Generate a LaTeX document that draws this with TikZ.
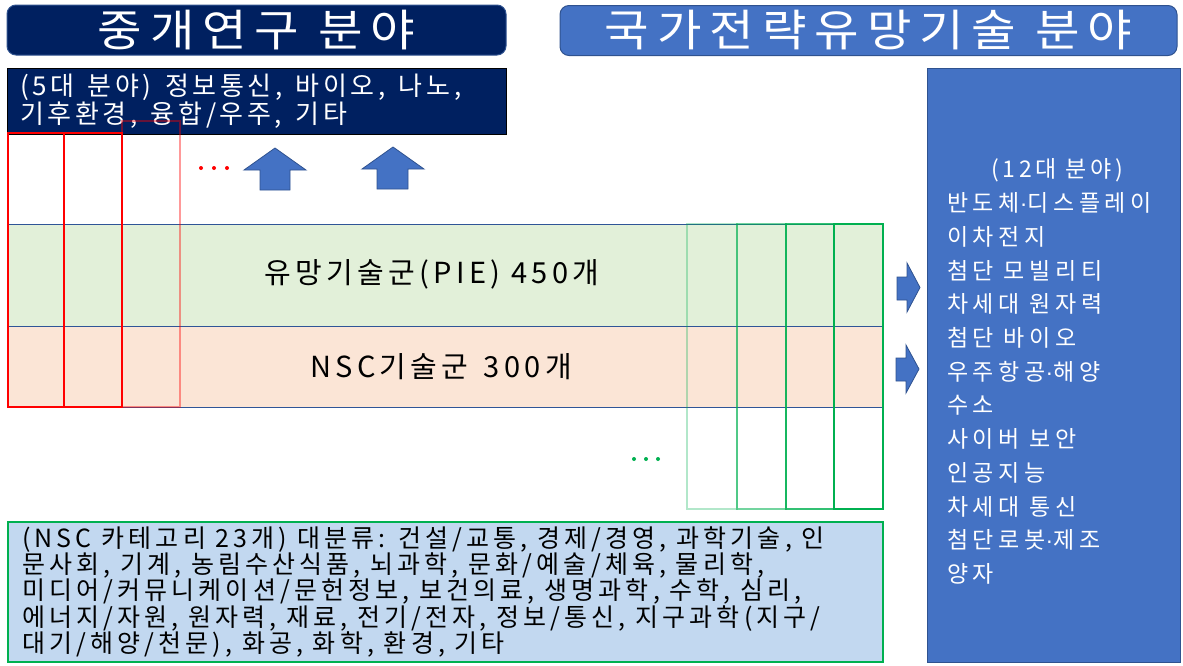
\documentclass[tikz,border=0pt]{standalone}
\usepackage{fontspec}
\setmainfont{Noto Sans CJK KR}
\newfontfamily\widefont[WordSpace=1.4]{Noto Sans CJK KR}
\newfontfamily\dotfont{Liberation Sans}
\newcommand\mdot{{\dotfont ·}}
\definecolor{navy}{RGB}{0,32,96}
\definecolor{blueF}{RGB}{68,114,196}
\definecolor{blueD}{RGB}{47,82,143}
\definecolor{rowL}{RGB}{47,85,151}
\definecolor{pieF}{RGB}{226,240,217}
\definecolor{nscF}{RGB}{251,229,214}
\definecolor{btmF}{RGB}{194,216,240}
\definecolor{grn}{RGB}{0,176,80}
\definecolor{rd}{RGB}{255,0,0}
\begin{document}
\begin{tikzpicture}[x=1pt,y=-1pt,
  box/.style={draw, inner sep=0pt, outer sep=0pt, line width=1pt},
  titlebox/.style={box, rounded corners=9pt, minimum height=50pt, text=white, font={\fontsize{44}{50}\selectfont\addfontfeatures{FakeStretch=1.1,LetterSpace=18}}},
  redcol/.style={draw=rd, line width=2pt},
  grncol/.style={draw=grn, line width=2pt},
  blockarrow/.style={fill=blueF, draw=blueD, line width=0.8pt},
  whitetext/.style={text=white, inner sep=0pt, align=left}]
\useasboundingbox (0,0) rectangle (1183,665);
% titles
\node[titlebox, fill=navy, draw=blueD, minimum width=499pt] (t1) at (256.5,30) {중개연구 분야};
\node[titlebox, fill=blueF, draw=blueD, minimum width=617pt] (t2) at (868.5,30.5) {국가전략유망기술 분야};
% 5 fields box
\node[box, fill=navy, draw=black, minimum width=499pt, minimum height=66pt] (five) at (256.5,101) {};
\node[whitetext, anchor=west, font={\widefont\fontsize{26}{26}\selectfont\addfontfeatures{LetterSpace=14}}] (fivet) at (20,101) {(5대 분야) 정보통신, 바이오, 나노,\\기후환경, 융합/우주, 기타};
% rows
\node[box, fill=pieF, draw=rowL, minimum width=875pt, minimum height=102pt] (pie) at (445.5,275) {};
\node[box, fill=nscF, draw=rowL, minimum width=875pt, minimum height=81pt] (nsc) at (445.5,366.5) {};
\node[inner sep=0pt, font={\fontsize{29}{30}\selectfont\addfontfeatures{LetterSpace=15}}] (piet) at (432,274) {유망기술군(PIE) 450개};
\node[inner sep=0pt, font={\widefont\fontsize{29}{30}\selectfont\addfontfeatures{LetterSpace=15}}] (nsct) at (441,367) {NSC기술군 300개};
% red columns
\draw[redcol] (8,133) rectangle (64,407);
\draw[redcol] (64,133) rectangle (122,407);
\draw[redcol, draw opacity=0.4] (122,121) rectangle (180,407);
% green columns
\draw[grncol, draw opacity=0.3] (687,224) rectangle (737,509);
\draw[grncol, draw opacity=0.55] (737,224) rectangle (786,509);
\draw[grncol, draw opacity=0.8] (786,224) rectangle (834,509);
\draw[grncol] (834,224) rectangle (883,509);
% dots
\foreach \x in {201,214,227} \fill[rd] (\x,168) circle (2pt);
\foreach \x in {634,646,658} \fill[grn] (\x,459) circle (2pt);
% up arrows
\path[blockarrow] (260,190) -- (260,170) -- (244,170) -- (275,148) -- (306,170) -- (290,170) -- (290,190) -- cycle;
\path[blockarrow] (377,189) -- (377,169) -- (362,169) -- (393,147) -- (424,169) -- (408,169) -- (408,189) -- cycle;
% right arrows
\path[blockarrow] (897,277) -- (907,277) -- (907,263) -- (920,287.5) -- (907,312) -- (907,300) -- (897,300) -- cycle;
\path[blockarrow] (896,358) -- (906,358) -- (906,345) -- (919,369) -- (906,393) -- (906,381) -- (896,381) -- cycle;
% right box
\node[box, fill=blueF, draw=blueD, minimum width=253pt, minimum height=594pt] (r) at (1053.5,365) {};
\node[whitetext, font={\fontsize{23}{24}\selectfont\addfontfeatures{LetterSpace=16}}] (rhead) at (1057,170) {(12대 분야)};
\node[whitetext, anchor=west, font={\fontsize{23}{33.7}\selectfont\addfontfeatures{LetterSpace=20}}] (rlist) at (947,388.5) {반도체\mdot 디스플레이\\이차전지\\첨단 모빌리티\\차세대 원자력\\첨단 바이오\\우주항공\mdot 해양\\수소\\사이버 보안\\인공지능\\차세대 통신\\첨단로봇\mdot 제조\\양자};
% bottom box
\node[box, fill=btmF, draw=grn, line width=1.5pt, minimum width=875pt, minimum height=140pt] (b) at (445.5,592) {};
\node[inner sep=0pt, align=left, anchor=west, font={\fontsize{25}{26.2}\selectfont\addfontfeatures{LetterSpace=16.5}}] (bt) at (22,592) {(NSC 카테고리 23개) 대분류: 건설/교통, 경제/경영, 과학기술, 인\\문사회, 기계, 농림수산식품, 뇌과학, 문화/예술/체육, 물리학,\\미디어/커뮤니케이션/문헌정보, 보건의료, 생명과학, 수학, 심리,\\에너지/자원, 원자력, 재료, 전기/전자, 정보/통신, 지구과학(지구/\\대기/해양/천문), 화공, 화학, 환경, 기타};
\end{tikzpicture}
\end{document}
